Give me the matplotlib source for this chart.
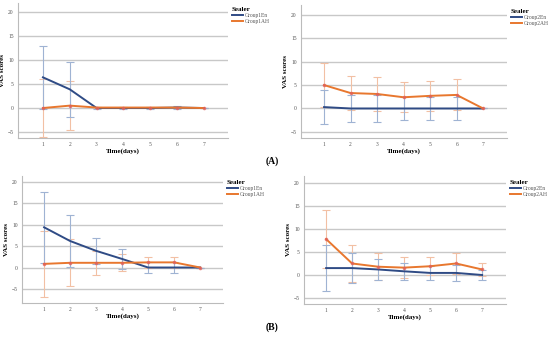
import numpy as np
import matplotlib
matplotlib.use('Agg')
import matplotlib.pyplot as plt

plt.rcParams['font.family'] = ['Liberation Serif', 'DejaVu Serif']

days = [1, 2, 3, 4, 5, 6, 7]
yticks = [-5, 0, 5, 10, 15, 20]

# (A) left: Group1En / Group1AH
a1_en = [6.4, 3.9, 0.0, 0.0, 0.0, 0.1, 0.0]
a1_en_err = [6.6, 5.7, 0.2, 0.2, 0.2, 0.3, 0.0]
a1_ah = [0.0, 0.5, 0.1, 0.1, 0.1, 0.1, 0.0]
a1_ah_err = [6.1, 5.1, 0.1, 0.1, 0.1, 0.1, 0.0]

# (A) right: Group2En / Group2AH
a2_en = [0.3, 0.0, 0.0, 0.0, 0.0, 0.0, 0.0]
a2_en_err = [3.7, 2.9, 2.8, 2.5, 2.5, 2.5, 0.0]
a2_ah = [5.0, 3.3, 3.1, 2.4, 2.7, 2.9, 0.0]
a2_ah_err = [4.7, 3.7, 3.6, 3.2, 3.2, 3.3, 0.0]

# (B) left: Group1En / Group1AH
b1_en = [9.4, 6.2, 3.9, 2.0, 0.0, 0.0, 0.0]
b1_en_err = [8.3, 6.0, 3.1, 2.3, 1.25, 1.3, 0.0]
b1_ah = [0.85, 1.1, 1.1, 1.1, 1.2, 1.2, 0.0]
b1_ah_err = [7.8, 5.5, 2.8, 2.0, 1.2, 1.3, 0.0]

# (B) right: Group2En / Group2AH
b2_en = [1.5, 1.5, 1.2, 0.8, 0.45, 0.45, 0.0]
b2_en_err = [5.0, 3.2, 2.3, 1.8, 1.45, 1.7, 1.0]
b2_ah = [7.8, 2.5, 1.8, 1.6, 1.9, 2.5, 1.2]
b2_ah_err = [6.3, 4.0, 2.9, 2.3, 2.0, 2.3, 1.4]

W, H = 550, 342
BLUE = '#2f4b85'
ORANGE = '#e8772e'
BLUE_E = '#9fb3d3'
ORANGE_E = '#f2c0a4'


def px_axes(fig, x0, y0, x1, y1):
  return fig.add_axes([x0 / W, 1 - y1 / H, (x1 - x0) / W, (y1 - y0) / H])


def panel(ax, en, en_err, ah, ah_err, names, xlim, ylim, xpad):
  for y in yticks:
    ax.axhline(y, color='#c8c8c8', lw=1.0, zorder=0)
  ax.errorbar(days, ah, yerr=ah_err, fmt='none', ecolor=ORANGE_E,
              elinewidth=0.8, capsize=3, capthick=0.8, zorder=2)
  ax.errorbar(days, en, yerr=en_err, fmt='none', ecolor=BLUE_E,
              elinewidth=0.8, capsize=3, capthick=0.8, zorder=2)
  ax.plot(days, en, color=BLUE, lw=1.4, label=names[0], zorder=3)
  ax.plot(days, ah, color=ORANGE, lw=1.4, label=names[1], zorder=4)
  ax.plot(days, ah, ls='none', marker='o', ms=1.6, color='#e0605a',
          alpha=0.7, zorder=5)
  ax.set_xlim(*xlim)
  ax.set_ylim(*ylim)
  ax.set_xticks(days)
  ax.set_yticks(yticks)
  ax.tick_params(labelsize=4, length=0, pad=3, colors='#555555')
  for s in ['top', 'right']:
    ax.spines[s].set_visible(False)
  for s in ['left', 'bottom']:
    ax.spines[s].set_color('#bbbbbb')
    ax.spines[s].set_linewidth(0.8)
  ax.set_ylabel('VAS scores', fontsize=5, fontweight='bold', labelpad=2)
  ax.set_xlabel('Time(days)', fontsize=5, fontweight='bold', labelpad=xpad)
  leg = ax.legend(loc='upper left', bbox_to_anchor=(1.0, 1.0), frameon=False,
                  title='Sealer', fontsize=4, handlelength=2.0,
                  handletextpad=0.4, labelspacing=0.15, borderaxespad=0.3,
                  title_fontproperties={'weight': 'bold', 'size': 5},
                  labelcolor='#555555')
  leg._legend_box.align = 'left'


fig = plt.figure(figsize=(W / 100, H / 100), dpi=100)

ax = px_axes(fig, 18, 3, 228, 138)
panel(ax, a1_en, a1_en_err, a1_ah, a1_ah_err, ['Group1En', 'Group1AH'],
      (0.07, 7.9), (-6.25, 21.9), 1)

ax = px_axes(fig, 301, 5, 507, 138)
panel(ax, a2_en, a2_en_err, a2_ah, a2_ah_err, ['Group2En', 'Group2AH'],
      (0.13, 7.9), (-6.3, 22.1), 1)

ax = px_axes(fig, 22, 176, 223, 303)
panel(ax, b1_en, b1_en_err, b1_ah, b1_ah_err, ['Group1En', 'Group1AH'],
      (0.15, 7.88), (-8.3, 21.4), 1)

ax = px_axes(fig, 304, 176, 506, 304)
panel(ax, b2_en, b2_en_err, b2_ah, b2_ah_err, ['Group2En', 'Group2AH'],
      (0.15, 7.92), (-6.3, 21.5), 1)

fig.text(272 / W, 1 - 161 / H, '(A)', fontsize=7, fontweight='bold',
         ha='center', va='center')
fig.text(272 / W, 1 - 327 / H, '(B)', fontsize=7, fontweight='bold',
         ha='center', va='center')

fig.savefig('out.png', dpi=100)
